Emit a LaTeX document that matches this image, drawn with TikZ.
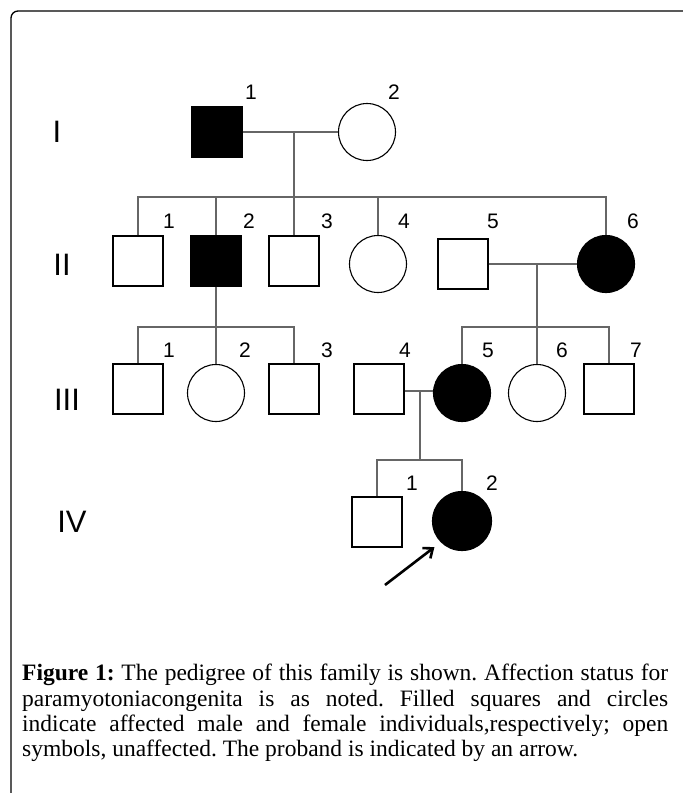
\documentclass[tikz,border=0pt]{standalone}
\usepackage{fontspec}
\setmainfont{Liberation Serif}
\newfontfamily\pedfont{Liberation Sans}
\usepackage{tikz}
\usetikzlibrary{arrows.meta}

\tikzset{
  male/.style={draw, line width=1.1pt, minimum width=50pt, minimum height=50pt, inner sep=0pt},
  female/.style={draw, circle, line width=1.1pt, minimum size=57pt, inner sep=0pt},
  affected/.style={fill=black},
  kin/.style={draw=black!60, line width=1.6pt},
  num/.style={font=\pedfont\fontsize{21}{21}\selectfont, inner sep=0pt},
  gen/.style={font=\pedfont\fontsize{31}{31}\selectfont, inner sep=0pt},
  proband/.style={line width=2.6pt, -{Straight Barb[length=8pt,width=13pt]}, shorten >=8pt},
  caption/.style={text width=646pt, align=justify, inner sep=0pt,
    font=\fontsize{23.5}{25.3}\selectfont\frenchspacing},
}

\begin{document}
\begin{tikzpicture}[x=1pt, y=-1pt]
	\useasboundingbox (0,0) rectangle (683,793);
	\draw[line width=1.3pt, rounded corners=7pt] (683,11) -- (11,11) -- (11,793);

	% generation labels
	\node[gen] (gI) at (57,132) {I};
	\node[gen] (gII) at (62,265) {II};
	\node[gen] (gIII) at (67,400) {III};
	\node[gen] (gIV) at (72,522) {IV};

	% generation I
	\node[male, affected] (I1) at (217,132) {};
	\node[female] (I2) at (367,132) {};
	\node[num] (nI1) at (251,92) {1};
	\node[num] (nI2) at (394,92) {2};
	\coordinate (m1) at (294,132);
	\coordinate (s2) at (294,197);
	\draw[kin] (I1) -- (I2);
	\draw[kin] (m1) -- (s2);

	% generation II
	\node[male] (II1) at (138,261) {};
	\node[male, affected] (II2) at (216,261) {};
	\node[male] (II3) at (294,261) {};
	\node[female] (II4) at (378,264) {};
	\node[male] (II5) at (463,264) {};
	\node[female, affected] (II6) at (606,264) {};
	\node[num] (nII1) at (169,221) {1};
	\node[num] (nII2) at (249,221) {2};
	\node[num] (nII3) at (327,221) {3};
	\node[num] (nII4) at (404,221) {4};
	\node[num] (nII5) at (493,221) {5};
	\node[num] (nII6) at (633,221) {6};
	\draw[kin] (II1.north) |- (s2) -| (II6.north);
	\draw[kin] (II2.north) -- (II2.north |- s2);
	\draw[kin] (s2) -- (II3.north);
	\draw[kin] (II4.north) -- (II4.north |- s2);
	\coordinate (m2) at (537,264);
	\draw[kin] (II5) -- (II6);

	% generation III
	\coordinate (s3l) at (216,327);
	\coordinate (s3r) at (537,327);
	\node[male] (III1) at (138,389) {};
	\node[female] (III2) at (216,393) {};
	\node[male] (III3) at (294,389) {};
	\node[male] (III4) at (379,389) {};
	\node[female, affected] (III5) at (462,393) {};
	\node[female] (III6) at (537,393) {};
	\node[male] (III7) at (609,389) {};
	\node[num] (nIII1) at (169,350) {1};
	\node[num] (nIII2) at (245,350) {2};
	\node[num] (nIII3) at (327,350) {3};
	\node[num] (nIII4) at (405,350) {4};
	\node[num] (nIII5) at (488,350) {5};
	\node[num] (nIII6) at (562,350) {6};
	\node[num] (nIII7) at (636,350) {7};
	\draw[kin] (II2.south) -- (III2.north);
	\draw[kin] (III1.north) |- (s3l) -| (III3.north);
	\draw[kin] (m2) -- (III6.north);
	\draw[kin] (III5.north) |- (s3r) -| (III7.north);
	\coordinate (m3) at (420,391);
	\draw[kin] (m3 -| III4.east) -- (m3 -| III5.west);

	% generation IV
	\coordinate (s4) at (420,460);
	\node[male] (IV1) at (377,522) {};
	\node[female, affected, minimum size=59pt] (IV2) at (462,521) {};
	\node[num] (nIV1) at (412,483) {1};
	\node[num] (nIV2) at (492,483) {2};
	\draw[kin] (m3) -- (s4);
	\draw[kin] (IV1.north) |- (s4) -| (IV2.north);
	\coordinate (tail) at (385,585);
	\draw[proband] (tail) -- (IV2.south west);

	% caption
	\node[caption, anchor=north west] (cap) at (22,664) {\textbf{Figure 1:} The pedigree of this family is shown. Affection status for\linebreak paramyotoniacongenita is as noted. Filled squares and circles\linebreak indicate affected male and female individuals,respectively; open\linebreak symbols, unaffected. The proband is indicated by an arrow.};
\end{tikzpicture}
\end{document}
